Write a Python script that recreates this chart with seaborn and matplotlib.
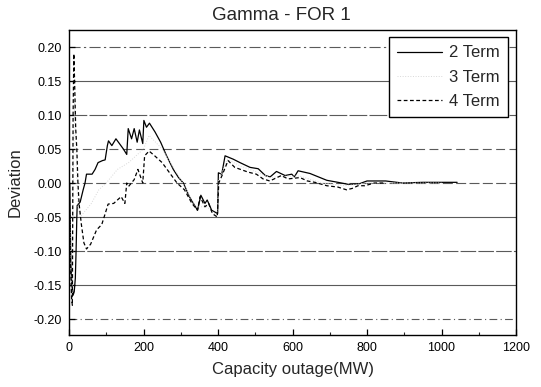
import matplotlib
matplotlib.use("Agg")
import matplotlib.pyplot as plt
import seaborn as sns
import pandas as pd
from matplotlib.ticker import MultipleLocator

# ---------------- data ----------------
two_x = [2, 5, 8, 11, 14, 17, 19, 21, 22, 30, 38, 43, 47, 62, 70, 78, 90, 97, 103, 106,
         115, 126, 146, 155, 159, 168, 175, 183, 189, 198, 201, 208, 216, 231, 246, 262,
         280, 294, 307, 323, 345, 354, 365, 371, 383, 399, 401, 410, 419, 441, 459, 486,
         508, 527, 540, 557, 580, 598, 605, 615, 647, 692, 722, 750, 780, 800, 850, 880,
         895, 950, 1000, 1042]
two_y = [0.0, -0.12, -0.15, -0.165, -0.16, -0.14, -0.10, -0.05, -0.033, -0.028, -0.01, 0.0,
         0.013, 0.013, 0.02, 0.03, 0.033, 0.034, 0.055, 0.062, 0.055, 0.065, 0.05, 0.042,
         0.08, 0.065, 0.08, 0.06, 0.078, 0.058, 0.092, 0.082, 0.088, 0.075, 0.06, 0.04,
         0.02, 0.008, 0.0, -0.02, -0.04, -0.018, -0.03, -0.025, -0.04, -0.045, 0.015, 0.013,
         0.04, 0.035, 0.030, 0.023, 0.021, 0.011, 0.009, 0.017, 0.011, 0.013, 0.009, 0.018,
         0.014, 0.004, 0.001, -0.002, -0.001, 0.003, 0.003, 0.001, 0.0, 0.001, 0.001, 0.001]

three_x = [0, 5, 9, 12, 15, 19, 23, 30, 45, 60, 80, 100, 130, 160, 200, 215, 250, 300,
           340, 370, 398, 402, 425, 460, 500, 540, 580, 620, 680, 740, 800, 900, 1000]
three_y = [0.0, -0.13, -0.17, 0.02, 0.12, 0.05, -0.03, -0.05, -0.04, -0.03, -0.01, 0.0,
           0.02, 0.03, 0.05, 0.07, 0.05, 0.005, -0.035, -0.035, -0.048, 0.005, 0.035, 0.025,
           0.017, 0.008, 0.01, 0.01, 0.0, -0.004, 0.0, 0.0, 0.0]

four_x = [0, 4, 7, 9, 11, 13, 15, 18, 21, 24, 27, 33, 40, 47, 58, 74, 88, 100, 105, 120,
          140, 150, 155, 160, 175, 185, 198, 203, 215, 230, 250, 270, 290, 310, 330, 345,
          352, 365, 375, 385, 398, 402, 410, 427, 445, 481, 503, 521, 539, 570, 588, 620,
          640, 660, 692, 722, 745, 760, 776, 794, 820, 850]
four_y = [0.0, -0.12, -0.17, -0.18, 0.10, 0.19, 0.15, 0.08, 0.05, 0.0, -0.03, -0.06, -0.088,
          -0.097, -0.09, -0.069, -0.061, -0.04, -0.031, -0.03, -0.02, -0.03, 0.0, -0.005,
          0.005, 0.02, 0.0, 0.04, 0.047, 0.04, 0.03, 0.015, 0.0, -0.01, -0.03, -0.04, -0.02,
          -0.035, -0.03, -0.045, -0.05, 0.0, 0.01, 0.033, 0.023, 0.016, 0.013, 0.006, 0.003,
          0.011, 0.006, 0.008, 0.003, 0.001, -0.004, -0.006, -0.01, -0.008, -0.004, -0.004,
          0.0, 0.0]

series_names = ["2 Term", "3 Term", "4 Term"]
x_ticks = [0, 200, 400, 600, 800, 1000, 1200]
y_ticks = [-0.20, -0.15, -0.10, -0.05, 0.00, 0.05, 0.10, 0.15, 0.20]
y_tick_labels = ["-0.20", "-0.15", "-0.10", "-0.05", "0.00", "0.05", "0.10", "0.15", "0.20"]
title = "Gamma - FOR 1"
x_label = "Capacity outage(MW)"
y_label = "Deviation"

# ---------------- style ----------------
sns.set_style("ticks")
plt.rcParams["font.family"] = ["Liberation Sans", "DejaVu Sans"]

fig = plt.figure(figsize=(5.41, 3.87), dpi=100)
ax = fig.add_axes([69 / 541, 52 / 387, 447 / 541, 305 / 387])

df2 = pd.DataFrame({"x": two_x, "y": two_y})
df3 = pd.DataFrame({"x": three_x, "y": three_y})
df4 = pd.DataFrame({"x": four_x, "y": four_y})

sns.lineplot(data=df2, x="x", y="y", ax=ax, color="black", lw=0.9,
             label=series_names[0], sort=False, estimator=None)
sns.lineplot(data=df3, x="x", y="y", ax=ax, color="#d8d8d8", lw=0.7, linestyle=":",
             label=series_names[1], sort=False, estimator=None)
sns.lineplot(data=df4, x="x", y="y", ax=ax, color="black", lw=0.9, linestyle=(0, (3, 2)),
             label=series_names[2], sort=False, estimator=None)

ax.set_xlim(0, 1200)
ax.set_ylim(-0.2235, 0.225)
ax.set_xticks(x_ticks)
ax.xaxis.set_minor_locator(MultipleLocator(100))
ax.set_yticks(y_ticks)
ax.set_yticklabels(y_tick_labels)

# horizontal grid lines at each y tick, styled individually
ax.yaxis.grid(True, color="#5a5a5a", lw=0.8)
styles = {-0.20: (0, (7, 3, 1, 3)), -0.15: "-", -0.10: (0, (14, 2)), -0.05: "-",
          0.00: (0, (9, 3)), 0.05: (0, (8, 4)), 0.10: (0, (16, 2)), 0.15: "-",
          0.20: (0, (10, 3, 2, 3))}
for gl, v in zip(ax.get_ygridlines(), y_ticks):
    gl.set_linestyle(styles[round(v, 2)])
    gl.set_zorder(0.5)

for s in ax.spines.values():
    s.set_visible(True)
    s.set_color("black")
    s.set_linewidth(1.0)

ax.tick_params(axis="both", which="major", direction="in", length=4, width=0.9,
               labelsize=9, pad=5, colors="black")
ax.tick_params(axis="x", which="minor", direction="in", length=2, width=0.8)

ax.set_title(title, fontsize=13.5, x=0.475, pad=7)
ax.set_xlabel(x_label, fontsize=12, labelpad=6)
ax.set_ylabel(y_label, fontsize=12, labelpad=8)

leg = ax.legend(loc="upper right", bbox_to_anchor=(0.982, 0.977), borderaxespad=0,
                fontsize=12, frameon=True, fancybox=False, edgecolor="black",
                framealpha=1, handlelength=2.7, handletextpad=0.4, labelspacing=0.55,
                borderpad=0.5, markerfirst=True)
leg.get_frame().set_linewidth(1.0)

fig.savefig("out.png", dpi=100)
